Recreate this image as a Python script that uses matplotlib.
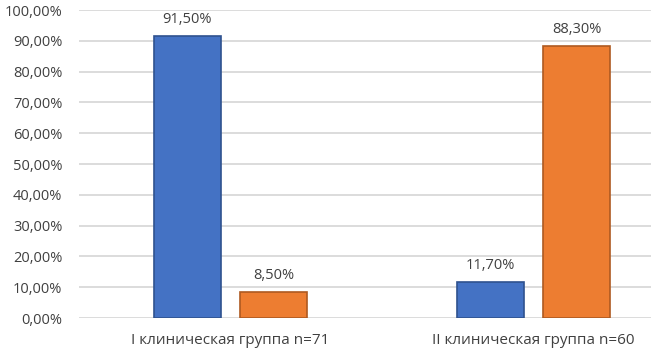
import matplotlib
matplotlib.use("Agg")
import matplotlib.pyplot as plt
from matplotlib.ticker import FuncFormatter
import numpy as np

categories = ["I клиническая группа n=71", "II клиническая группа n=60"]
series_a = [91.5, 11.7]
series_b = [8.5, 88.3]
labels_a = ["91,50%", "11,70%"]
labels_b = ["8,50%", "88,30%"]

plt.rcParams['font.family'] = ['Open Sans', 'DejaVu Sans']

fig = plt.figure(figsize=(6.51, 3.5), dpi=100)
ax = fig.add_axes([79/651, 32/350, 606/651, 308/350])

x = np.arange(len(categories))
w = 0.221
off = 0.142
ba = ax.bar(x - off, series_a, w, color="#4472C4", edgecolor="#2F528F", linewidth=1.2, zorder=3)
bb = ax.bar(x + off, series_b, w, color="#ED7D31", edgecolor="#AE5A21", linewidth=1.2, zorder=3)

txt = "#404040"
for rect, lab in zip(ba, labels_a):
    ax.text(rect.get_x() + rect.get_width()/2, rect.get_height() + 3.0, lab,
            ha="center", va="bottom", fontsize=10.5, color=txt)
for rect, lab in zip(bb, labels_b):
    ax.text(rect.get_x() + rect.get_width()/2, rect.get_height() + 3.0, lab,
            ha="center", va="bottom", fontsize=10.5, color=txt)

ax.set_xlim(-0.5, 1.5)
ax.set_ylim(0, 100)
ax.set_yticks(np.arange(0, 101, 10))
ax.yaxis.set_major_formatter(FuncFormatter(lambda v, p: f"{v:.2f}".replace(".", ",") + "%"))
ax.set_xticks(x)
ax.set_xticklabels(categories)
ax.tick_params(axis="y", length=0, labelsize=10.5, colors=txt, pad=12)
ax.tick_params(axis="x", length=0, labelsize=11, colors=txt, pad=11)
ax.grid(axis="y", color="#D9D9D9", linewidth=1.3, zorder=0)
for s in ax.spines.values():
    s.set_visible(False)

fig.savefig("out.png", dpi=100)
